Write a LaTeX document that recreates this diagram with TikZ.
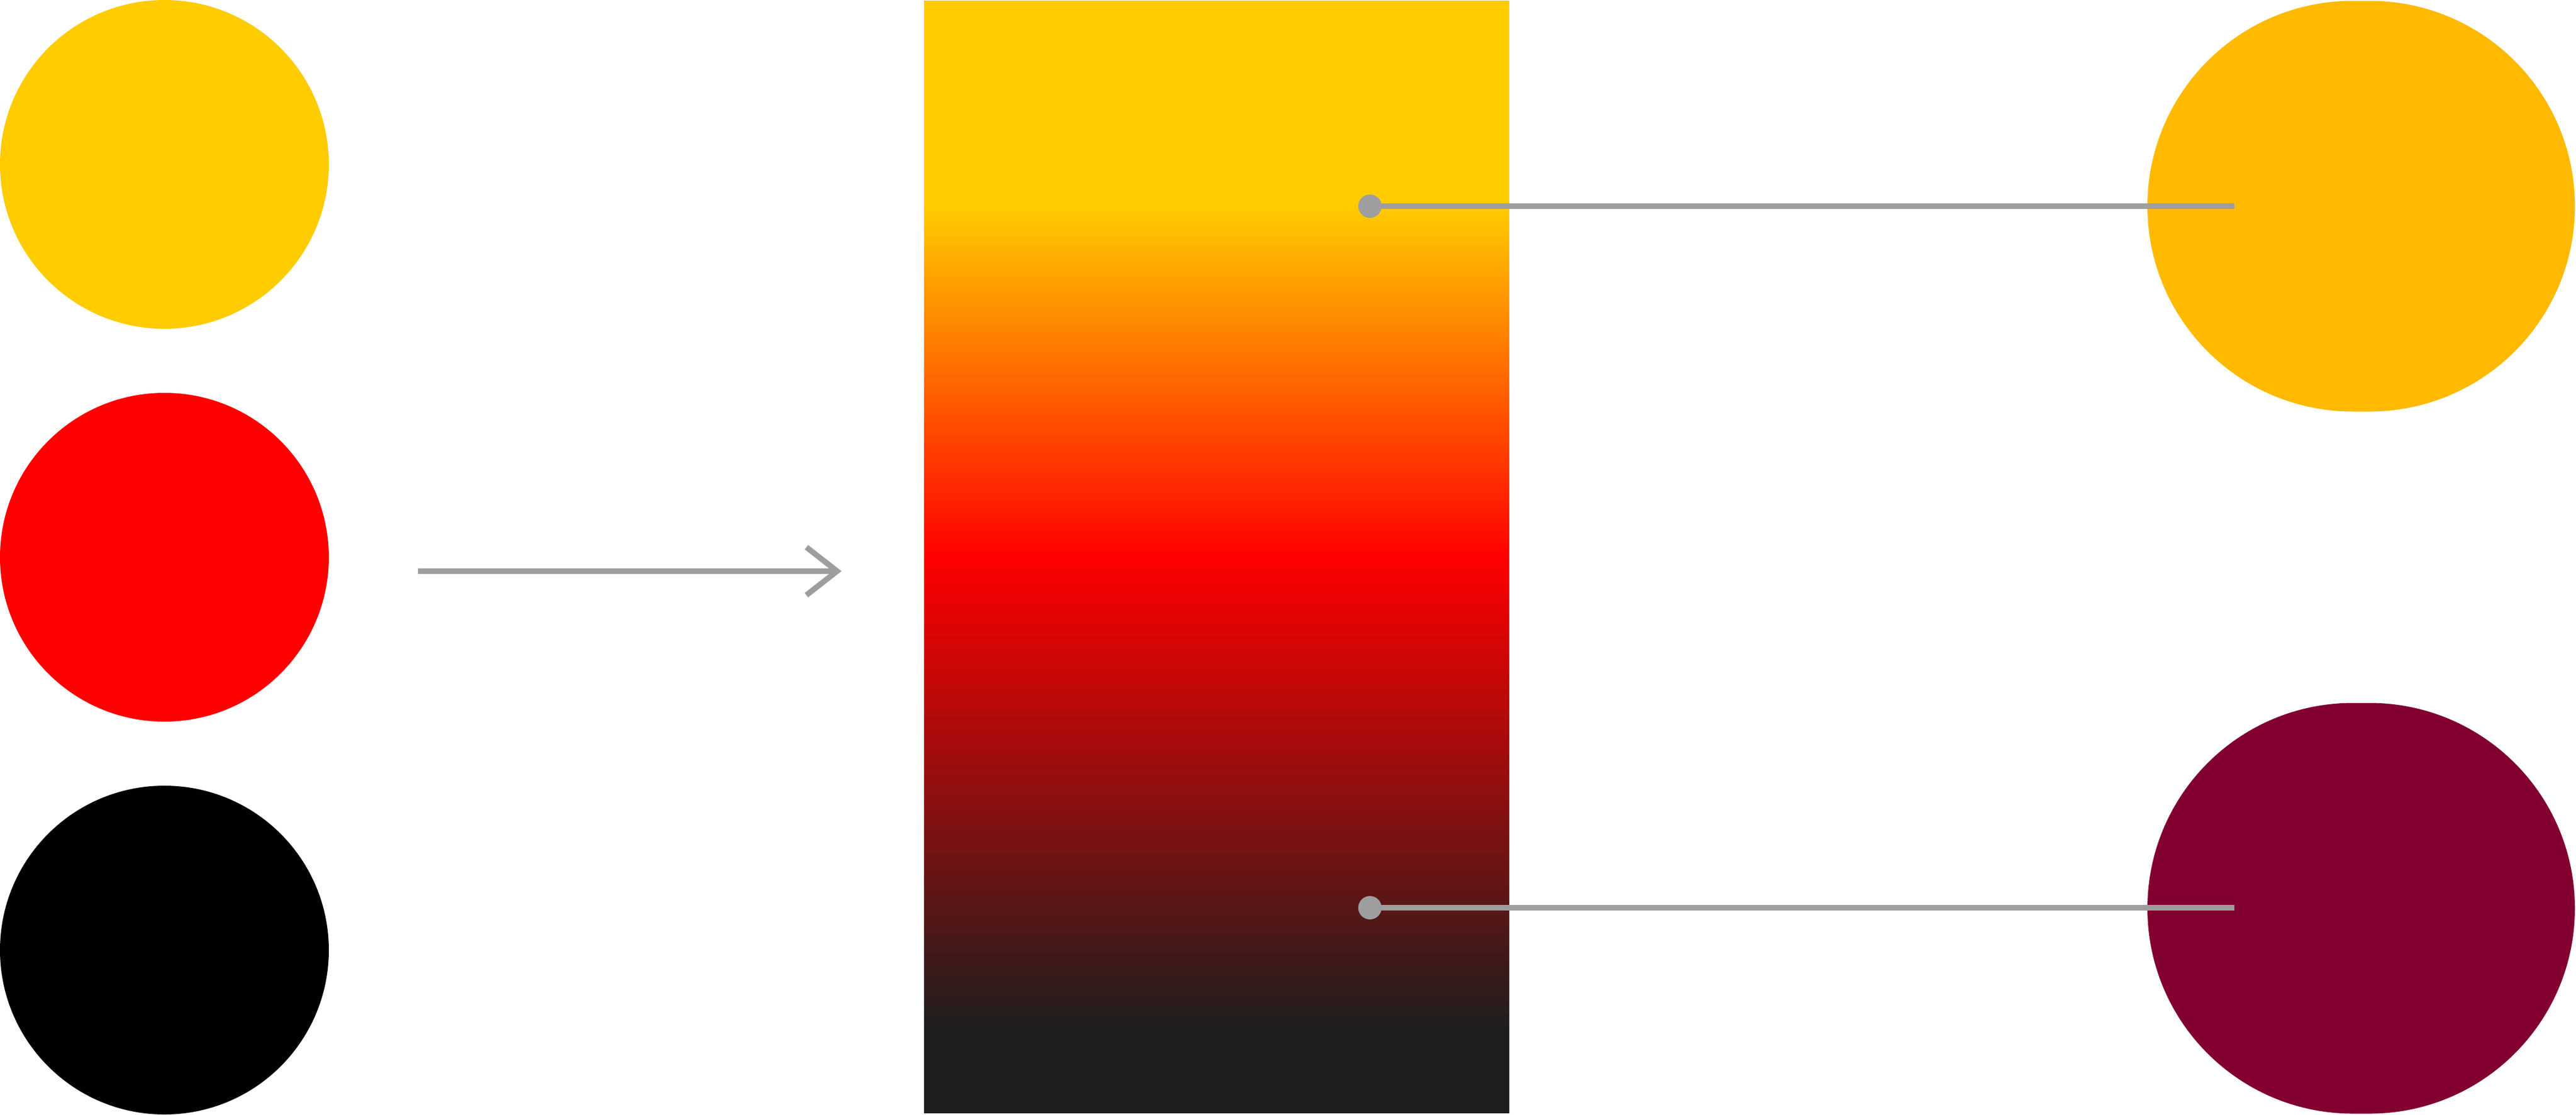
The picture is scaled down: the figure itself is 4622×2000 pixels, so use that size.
\documentclass[tikz,border=0pt]{standalone}
\usetikzlibrary{arrows.meta,shapes.misc}
\definecolor{heatyellow}{HTML}{FFCC00}
\definecolor{heatred}{HTML}{FF0000}
\definecolor{bardark}{HTML}{1E1E1E}
\definecolor{amber}{HTML}{FFBA00}
\definecolor{wine}{HTML}{820030}
\definecolor{guide}{HTML}{9E9E9E}
\pgfdeclareverticalshading{heatbar}{100bp}{color(0bp)=(bardark); color(28.75bp)=(bardark); color(50bp)=(heatred); color(65.75bp)=(heatyellow); color(100bp)=(heatyellow)}

\begin{document}
\begin{tikzpicture}[x=0.1mm, y=-0.1mm,
    swatch/.style={circle, inner sep=0pt, minimum size=59mm},
    pill/.style={rounded rectangle, inner sep=0pt, minimum width=76.7mm, minimum height=73.7mm},
    guideline/.style={draw=guide, line width=1mm},
    pin/.style={circle, fill=guide, inner sep=0pt, minimum size=4.2mm}]
    \useasboundingbox (0,0) rectangle (4622,2000);
    % colour swatches
    \node[swatch, fill=heatyellow] (yellowdot) at (295,295) {};
    \node[swatch, fill=heatred] (reddot) at (295,1000) {};
    \node[swatch, fill=black] (blackdot) at (295,1705) {};
    \coordinate (arrfrom) at (750,1025);
    \coordinate (arrto) at (1510,1025);
    \draw[guideline, -{Straight Barb[length=5.5mm, width=8.6mm]}] (arrfrom) -- (arrto);
    % the ramp
    \node[shading=heatbar, inner sep=0pt, minimum width=105mm, minimum height=199.6mm] (bar) at (2183,999) {};
    % picked colours
    \node[pill, fill=amber] (warmpill) at (4236.5,370) {};
    \node[pill, fill=wine] (deeppill) at (4236.5,1630) {};
    \node[pin] (pintop) at (2458,370) {};
    \node[pin] (pinbot) at (2458,1629) {};
    \coordinate (endtop) at (4009,370);
    \coordinate (endbot) at (4009,1629);
    \draw[guideline] (pintop.center) -- (endtop);
    \draw[guideline] (pinbot.center) -- (endbot);
\end{tikzpicture}
\end{document}
